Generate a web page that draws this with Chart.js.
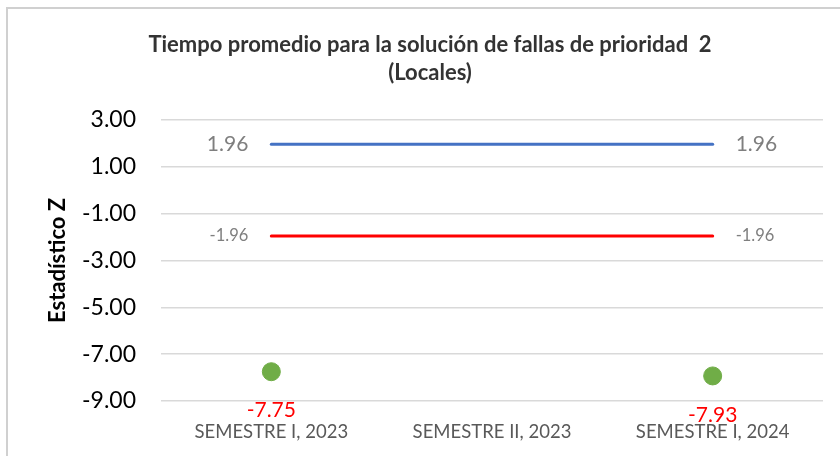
<!DOCTYPE html>
<html>
<head>
<meta charset="utf-8">
<script src="https://cdn.jsdelivr.net/npm/chart.js@4"></script>
<style>
  html, body { margin: 0; padding: 0; background: #fff; }
  #wrap { width: 840px; height: 456px; }
</style>
</head>
<body>
<div id="wrap"><canvas id="zChart" width="840" height="456"></canvas></div>
<script>
const categories = ['SEMESTRE I, 2023', 'SEMESTRE II, 2023', 'SEMESTRE I, 2024'];
const upperLimit = [1.96, 1.96, 1.96];
const lowerLimit = [-1.96, -1.96, -1.96];
const zValues = [-7.75, null, -7.93];
const yTicks = [-9, -7, -5, -3, -1, 1, 3];

// frame + white background
const framePlugin = {
    id: 'frame',
    beforeDraw(chart) {
        const ctx = chart.ctx;
        ctx.save();
        ctx.fillStyle = '#fff';
        ctx.fillRect(0, 0, chart.width, chart.height);
        ctx.strokeStyle = '#d0d0d0';
        ctx.lineWidth = 2;
        ctx.strokeRect(7, 8, chart.width + 20, chart.height + 20);
        ctx.restore();
    }
};

// simple value labels, drawn per dataset
const labelPlugin = {
    id: 'valueLabels',
    afterDatasetsDraw(chart) {
        const ctx = chart.ctx;
        ctx.save();
        chart.data.datasets.forEach((ds, i) => {
            const meta = chart.getDatasetMeta(i);
            const opt = ds.labelOpts;
            if (!opt) return;
            ctx.font = opt.font;
            ctx.fillStyle = opt.color;
            ctx.textBaseline = 'middle';
            meta.data.forEach((pt, j) => {
                const v = ds.data[j];
                if (v === null || v === undefined) return;
                const txt = v.toFixed(2);
                if (opt.mode === 'ends') {
                    if (j === 0) {
                        ctx.textAlign = 'right';
                        ctx.fillText(txt, pt.x - 23, pt.y);
                    } else if (j === ds.data.length - 1) {
                        ctx.textAlign = 'left';
                        ctx.fillText(txt, pt.x + 23, pt.y);
                    }
                } else {
                    ctx.textAlign = 'center';
                    ctx.fillText(txt, pt.x, pt.y + 39);
                }
            });
        });
        ctx.restore();
    }
};

const font = 'Lato, "Open Sans", sans-serif';

new Chart(document.getElementById('zChart'), {
    type: 'line',
    data: {
        labels: categories,
        datasets: [
            {
                data: upperLimit,
                borderColor: '#4472c4',
                borderWidth: 3,
                borderCapStyle: 'round',
                pointRadius: 0,
                labelOpts: { mode: 'ends', font: '21px ' + font, color: '#7f7f7f' }
            },
            {
                data: lowerLimit,
                borderColor: '#ff0000',
                borderWidth: 3,
                borderCapStyle: 'round',
                pointRadius: 0,
                labelOpts: { mode: 'ends', font: '16.5px ' + font, color: '#7f7f7f' }
            },
            {
                data: zValues,
                showLine: false,
                pointRadius: 9,
                pointBackgroundColor: '#70ad47',
                pointBorderColor: '#70ad47',
                labelOpts: { mode: 'below', font: '21px ' + font, color: '#ff0000' }
            }
        ]
    },
    options: {
        responsive: false,
        animation: false,
        layout: { padding: { left: 37, right: 17, top: 0, bottom: 0 } },
        plugins: {
            legend: { display: false },
            tooltip: { enabled: false },
            title: {
                display: true,
                text: ['Tiempo promedio para la solución de fallas de prioridad  2', '(Locales)'],
                color: '#333333',
                font: { family: font, size: 22, weight: 'bold', lineHeight: 1.27 },
                padding: { top: 31, bottom: 33 }
            }
        },
        scales: {
            x: {
                offset: true,
                grid: { display: false },
                border: { display: false },
                ticks: { color: '#595959', font: { family: font, size: 18.5 }, padding: 12, maxRotation: 0 },
                afterFit(scale) { scale.height = 55; }
            },
            y: {
                min: -9,
                max: 3,
                afterBuildTicks(scale) { scale.ticks = yTicks.map(v => ({ value: v })); },
                grid: { color: '#d9d9d9', lineWidth: 1.5, drawTicks: false },
                border: { display: false },
                ticks: {
                    color: '#000',
                    font: { family: font, size: 23 },
                    padding: 25,
                    callback: v => v.toFixed(2)
                },
                title: {
                    display: true,
                    text: 'Estadístico Z',
                    color: '#000',
                    font: { family: font, size: 22, weight: 'bold' },
                    padding: { top: 8, bottom: 0 }
                },
                afterFit(scale) { scale.width = 124; }
            }
        }
    },
    plugins: [framePlugin, labelPlugin]
});
</script>
</body>
</html>
